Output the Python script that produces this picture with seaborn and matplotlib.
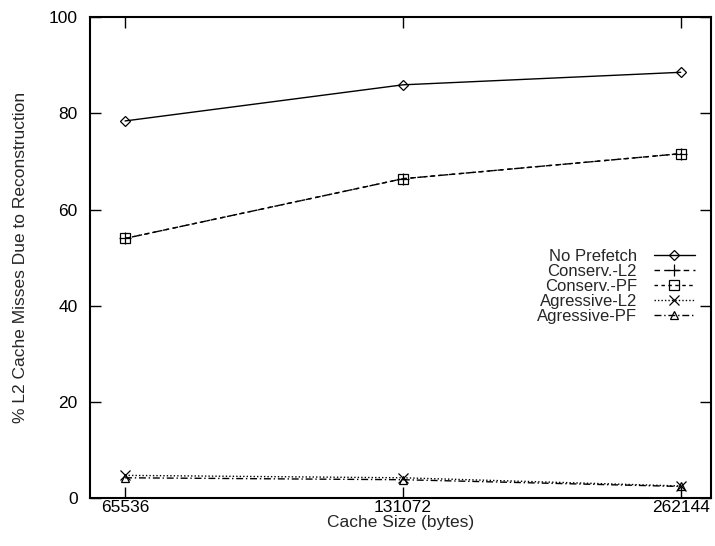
import numpy as np
import pandas as pd
import matplotlib
matplotlib.use("Agg")
import matplotlib.pyplot as plt
import seaborn as sns
from matplotlib.ticker import FixedLocator, NullLocator, FixedFormatter

# values
cache_sizes = [65536, 131072, 262144]
series_names = ["No Prefetch", "Conserv.-L2", "Conserv.-PF", "Agressive-L2", "Agressive-PF"]
no_prefetch = [78.4, 85.9, 88.5]
conserv_l2 = [54.0, 66.4, 71.6]
conserv_pf = [54.0, 66.4, 71.6]
agressive_l2 = [4.8, 4.3, 2.6]
agressive_pf = [4.3, 3.9, 2.5]

y_ticks = [0, 20, 40, 60, 80, 100]


def main():
    sns.set_style("ticks")
    plt.rcParams["font.family"] = ["Liberation Sans", "DejaVu Sans"]
    plt.rcParams["axes.linewidth"] = 1.5

    fig = plt.figure(figsize=(7.15, 5.46), dpi=100)
    ax = fig.add_axes([0.126, 0.087, 0.868, 0.882])

    all_values = [no_prefetch, conserv_l2, conserv_pf, agressive_l2, agressive_pf]
    markers = ["D", "+", "s", "x", "^"]
    sizes = [5, 8, 7, 7, 6]
    dashes = ["-", (0, (4, 3)), (0, (2.5, 2.5)), (0, (1, 1.5)), (0, (5, 2, 1, 2))]

    for name, vals, mk, ms, ls in zip(series_names, all_values, markers, sizes, dashes):
        df = pd.DataFrame({"size": cache_sizes, "pct": vals})
        sns.lineplot(data=df, x="size", y="pct", ax=ax, color="black",
                     marker=mk, markersize=ms, mfc="none", mec="black",
                     markeredgewidth=0.9, linestyle=ls, linewidth=1.0,
                     label=name)

    ax.set_xscale("log", base=2)
    ax.set_xlim(60057, 282540)
    ax.set_ylim(0, 100)
    ax.xaxis.set_major_locator(FixedLocator(cache_sizes))
    ax.xaxis.set_major_formatter(FixedFormatter([str(c) for c in cache_sizes]))
    ax.xaxis.set_minor_locator(NullLocator())
    ax.set_yticks(y_ticks)

    ax.tick_params(direction="in", length=8, width=1.0, top=True, right=True,
                   labelsize=12.5, colors="black")
    ax.tick_params(axis="x", pad=1)
    ax.tick_params(axis="y", pad=9)
    for sp in ax.spines.values():
        sp.set_visible(True)
        sp.set_color("black")

    ax.set_xlabel("Cache Size (bytes)", fontsize=12.5, labelpad=0)
    ax.set_ylabel("% L2 Cache Misses Due to Reconstruction", fontsize=12.5, labelpad=15)

    ax.legend(loc="center right", bbox_to_anchor=(0.975, 0.44),
              frameon=False, markerfirst=False, fontsize=12,
              handlelength=2.5, handletextpad=1.0, labelspacing=0.0,
              borderpad=0, borderaxespad=0)

    fig.savefig("out.png", dpi=100)


if __name__ == "__main__":
    main()
